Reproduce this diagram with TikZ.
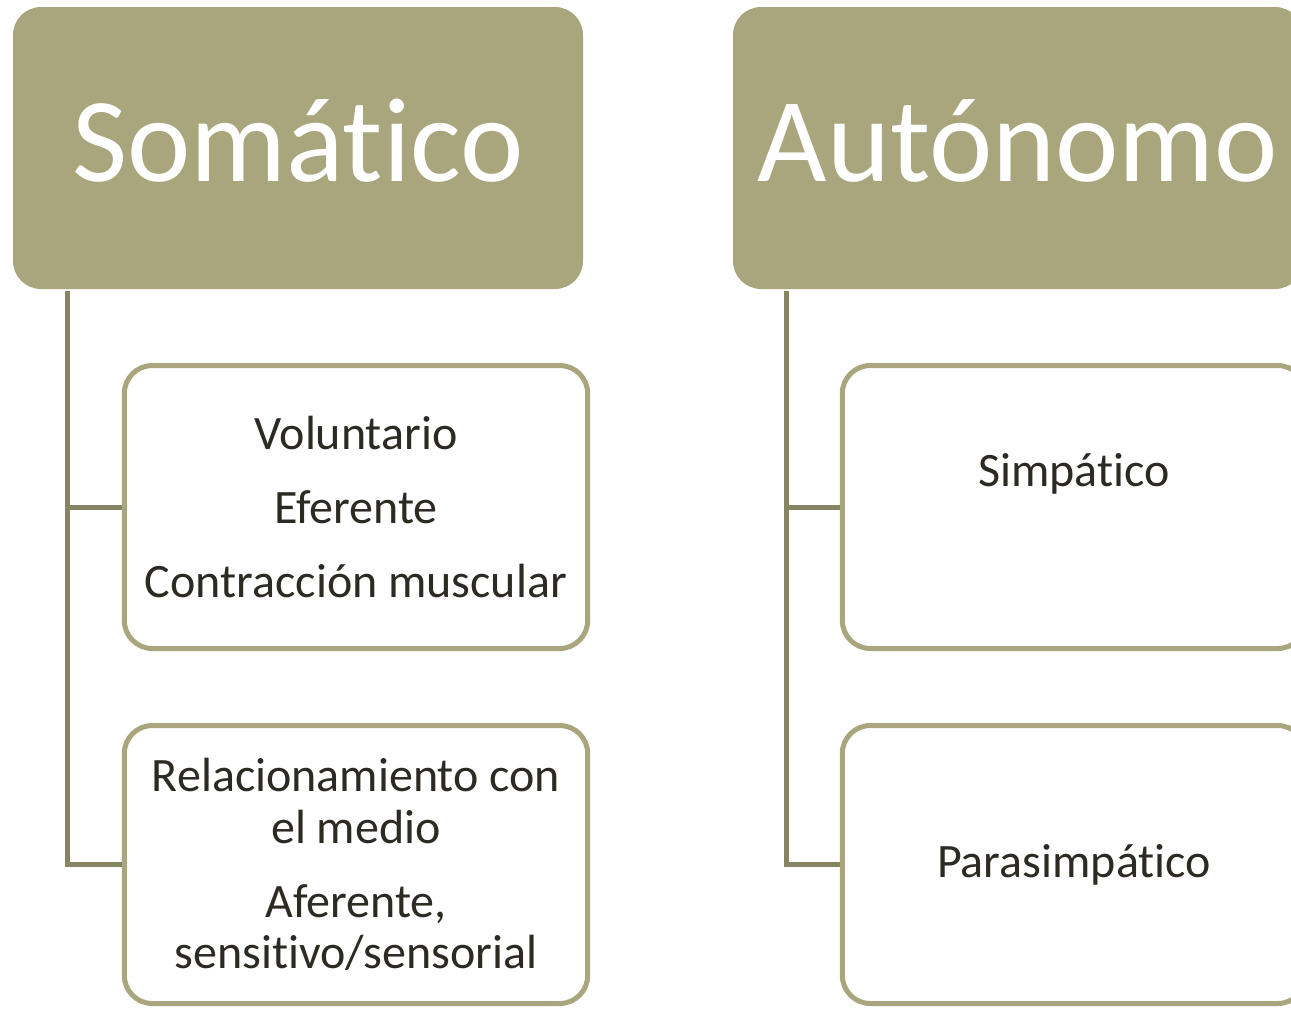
\documentclass[tikz,border=0pt]{standalone}
\usepackage{fontspec}
\setmainfont{Carlito}[Ligatures={NoCommon,NoRequired,NoContextual}]
\usepackage{tikz}
\usetikzlibrary{positioning,calc}
\definecolor{olive}{HTML}{A9A57C}
\definecolor{stem}{HTML}{868462}
\definecolor{ink}{HTML}{2C2A22}
\newcommand{\leaffont}{\fontsize{24}{25.6}\selectfont\spaceskip=5.4pt\relax}
\tikzset{
  head/.style  = {rectangle, rounded corners=14pt, fill=olive, text=white,
                  minimum width=285pt, minimum height=141pt, inner sep=0pt,
                  font=\fontsize{60}{72}\selectfont, text height=42pt, text depth=9pt},
  leaf/.style  = {rectangle, rounded corners=14pt, draw=olive, line width=2.5pt,
                  fill=white, text=ink, align=flush center, text width=225pt,
                  minimum width=228.5pt, minimum height=141.5pt, font=\leaffont},
  link/.style  = {draw=stem, line width=2.5pt}
}

\begin{document}
\begin{tikzpicture}[x=0.5pt, y=-0.5pt]
    \useasboundingbox (0,0) rectangle (1291,1008);
    \clip (0,0) rectangle (1291,1008);
    % left branch
    \node[head] (soma) at (298,148) {Somát\kern0pt ico};
    \node[leaf] (volun) at (356,507) {Voluntario\\[11.5pt]Eferente\\[11.5pt]Contracción muscular};
    \node[leaf, minimum height=139pt] (relac) at (356,864.5)
        {Relacionamiento con\\el medio\\[11.5pt]Aferente,\\sensit\kern0pt ivo/sensorial};
    \draw[link] ($(soma.south west)+(55,2)$) |- (volun.west);
    \draw[link] ($(soma.south west)+(55,2)$) |- (relac.west);
    % right branch
    \node[head] (auto) at (1018,148) {Autónomo};
    \node[leaf] (simpa) at (1074,507) {Simpát\kern0pt ico\\[11.5pt]~};
    \node[leaf, minimum height=139pt] (parasim) at (1074,864.5) {Parasimpát\kern0pt ico};
    \draw[link] ($(auto.south west)+(54,2)$) |- (simpa.west);
    \draw[link] ($(auto.south west)+(54,2)$) |- (parasim.west);
  \end{tikzpicture}
\end{document}
